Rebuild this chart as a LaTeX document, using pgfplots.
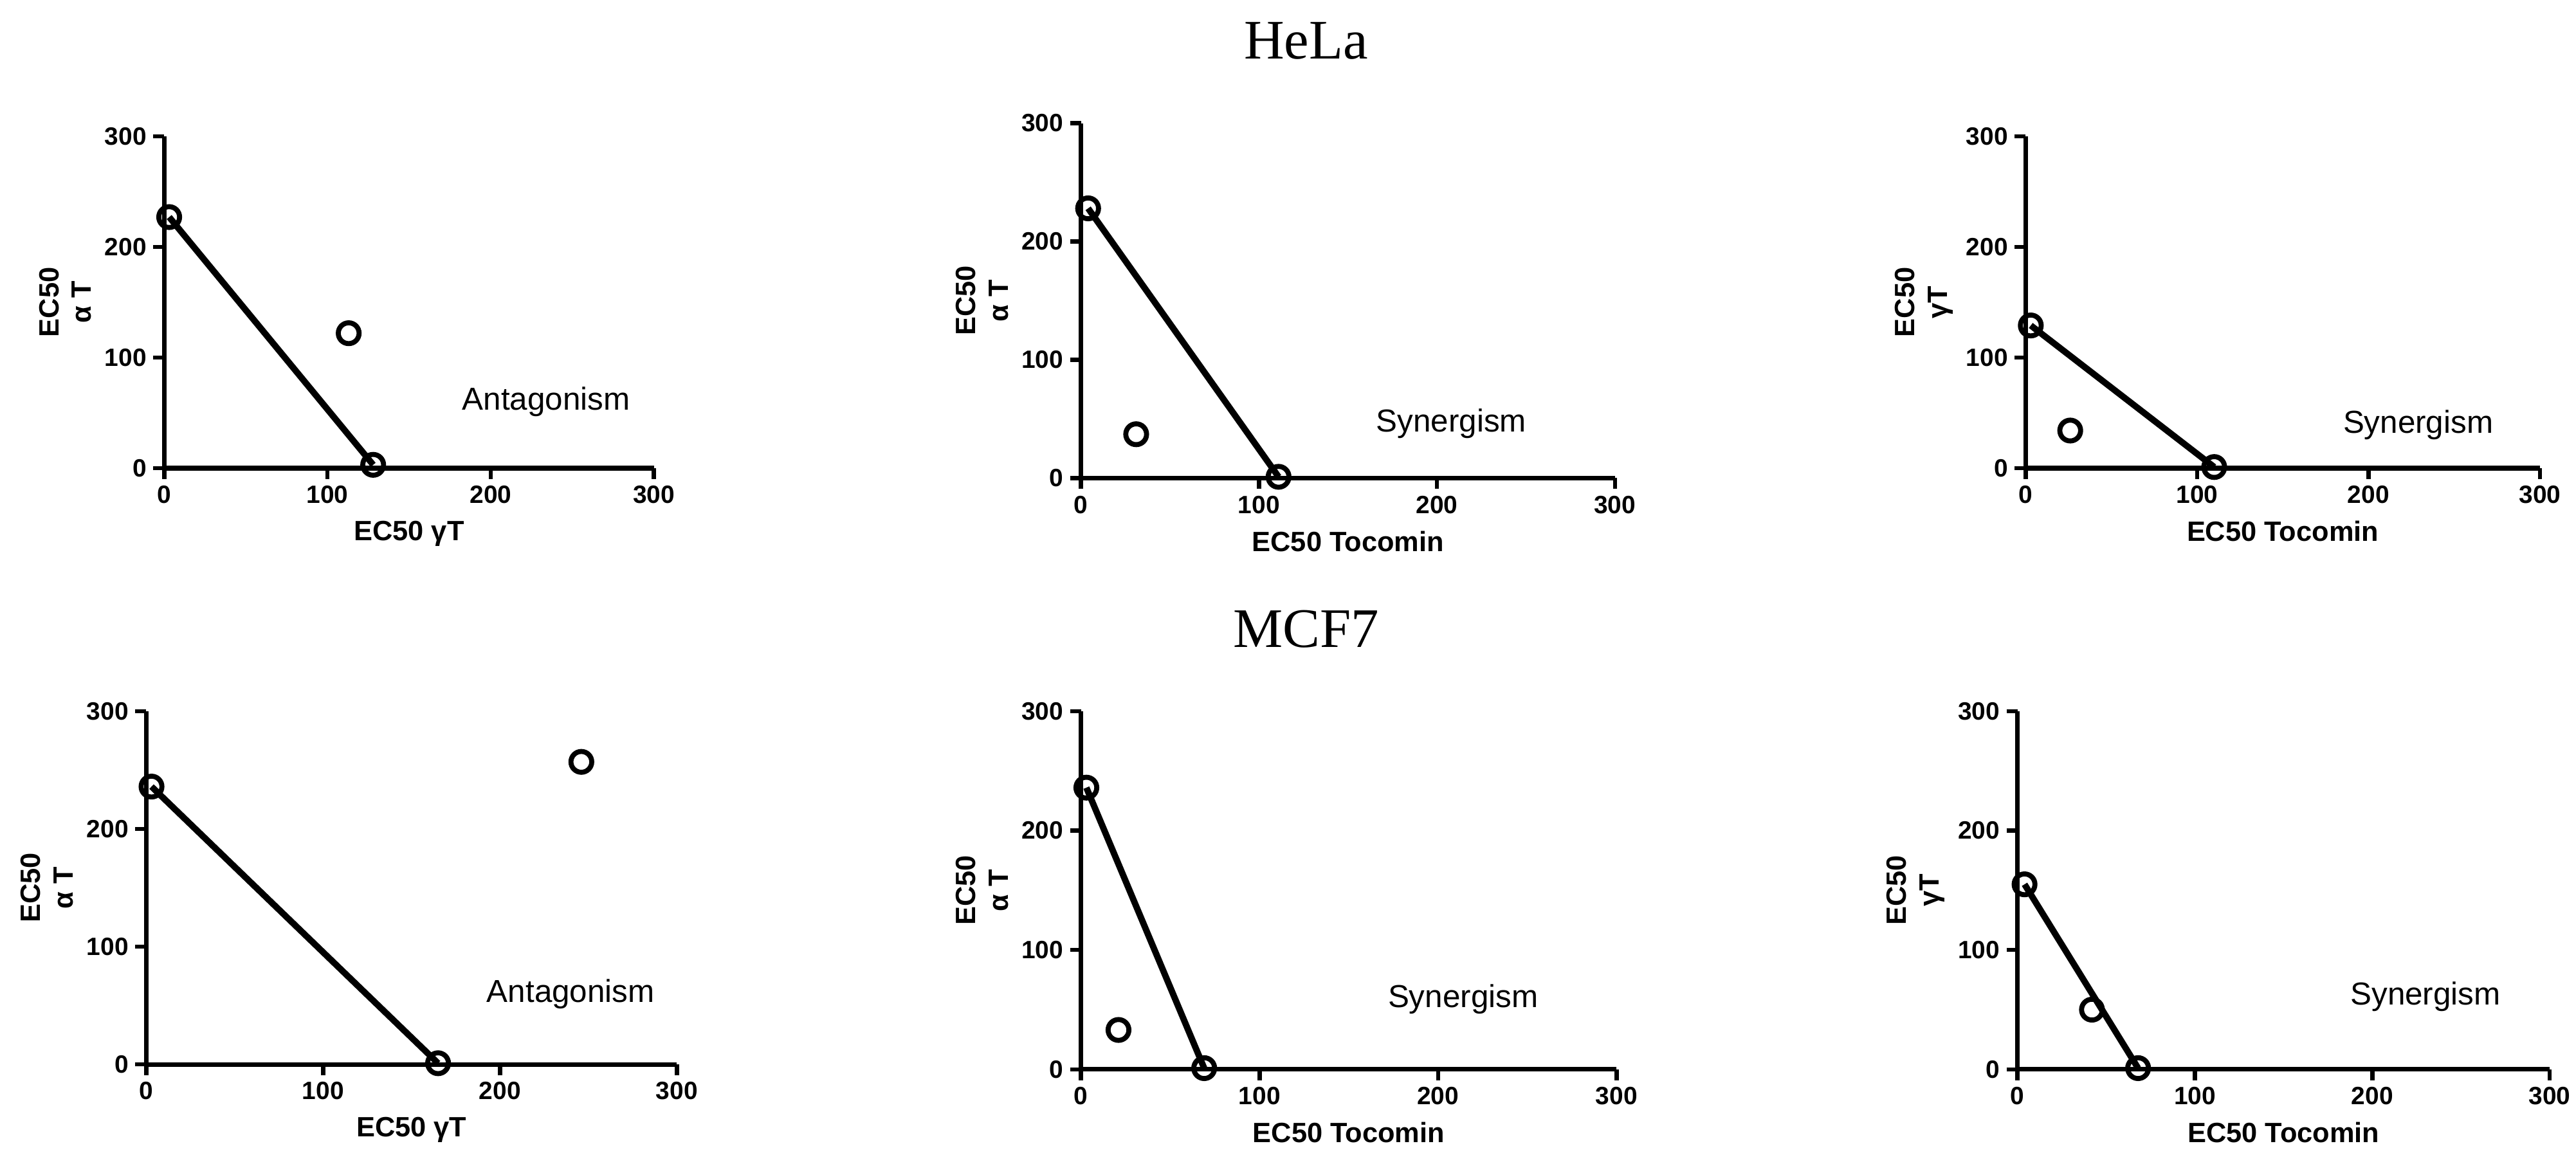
\documentclass[border=0pt]{standalone}
\usepackage{fontspec}
\setmainfont{Liberation Sans}
\newfontfamily\titlefont{Liberation Serif}
\usepackage{pgfplots}
\pgfplotsset{compat=1.18}

\pgfplotsset{
  iso/.style={
    scale only axis,
    anchor=south west,
    xmin=0, xmax=300, ymin=0, ymax=300,
    axis lines=left,
    axis line style={-, line width=2.4pt},
    xtick={0,100,200,300}, ytick={0,100,200,300},
    tick align=outside,
    major tick length=2mm,
    tick style={black, line width=2.2pt},
    tick label style={font=\bfseries\fontsize{13}{15}\selectfont},
    /pgf/number format/assume math mode=true,
    label style={font=\bfseries\fontsize{14.5}{17}\selectfont},
    xlabel style={yshift=-0.8mm},
    ylabel style={align=center},
    clip=false,
  },
  iline/.style={black, line width=3.3pt, no marks},
  ipts/.style={only marks, mark=o, mark size=1.9mm, mark options={black, line width=2.6pt}},
}
\tikzset{note/.style={font=\fontsize{16.5}{18}\selectfont}}

\begin{document}
\begin{tikzpicture}
\path[use as bounding box] (0,0) rectangle (470.4mm,-212.5mm);

\node[anchor=base, font=\titlefont\fontsize{29}{32}\selectfont] at (238.5mm,-10.8mm) {HeLa};
\node[anchor=base, font=\titlefont\fontsize{29}{32}\selectfont] at (238.5mm,-118.2mm) {MCF7};

% HeLa
\begin{axis}[iso, at={(30mm,-85.5mm)}, width=89.4mm, height=60.6mm,
  xlabel={EC50 γT}, ylabel={EC50\\α T}]
  \addplot[iline] coordinates {(3,227) (128,3)};
  \addplot[ipts] coordinates {(3,227) (113,122) (128,3)};
  \node[note] at (axis cs:234,60) {Antagonism};
\end{axis}

\begin{axis}[iso, at={(197.4mm,-87.3mm)}, width=97.5mm, height=64.8mm,
  xlabel={EC50 Tocomin}, ylabel={EC50\\α T}]
  \addplot[iline] coordinates {(4,228) (111,1)};
  \addplot[ipts] coordinates {(4,228) (31,37) (111,1)};
  \node[note] at (axis cs:208,46) {Synergism};
\end{axis}

\begin{axis}[iso, at={(369.9mm,-85.5mm)}, width=93.9mm, height=60.6mm,
  xlabel={EC50 Tocomin}, ylabel={EC50\\γT}]
  \addplot[iline] coordinates {(3,129) (110,1)};
  \addplot[ipts] coordinates {(3,129) (26,34) (110,1)};
  \node[note] at (axis cs:229,39) {Synergism};
\end{axis}

% MCF7
\begin{axis}[iso, at={(26.7mm,-194.4mm)}, width=96.9mm, height=64.5mm,
  xlabel={EC50 γT}, ylabel={EC50\\α T}]
  \addplot[iline] coordinates {(3,236) (165,1)};
  \addplot[ipts] coordinates {(3,236) (246,257) (165,1)};
  \node[note] at (axis cs:240,60) {Antagonism};
\end{axis}

\begin{axis}[iso, at={(197.4mm,-195.3mm)}, width=97.8mm, height=65.4mm,
  xlabel={EC50 Tocomin}, ylabel={EC50\\α T}]
  \addplot[iline] coordinates {(3,236) (69,1)};
  \addplot[ipts] coordinates {(3,236) (21,33) (69,1)};
  \node[note] at (axis cs:214,59) {Synergism};
\end{axis}

\begin{axis}[iso, at={(368.4mm,-195.3mm)}, width=97.2mm, height=65.4mm,
  xlabel={EC50 Tocomin}, ylabel={EC50\\γT}]
  \addplot[iline] coordinates {(4,155) (68,1)};
  \addplot[ipts] coordinates {(4,155) (42,50) (68,1)};
  \node[note] at (axis cs:230,61) {Synergism};
\end{axis}
\end{tikzpicture}
\end{document}
